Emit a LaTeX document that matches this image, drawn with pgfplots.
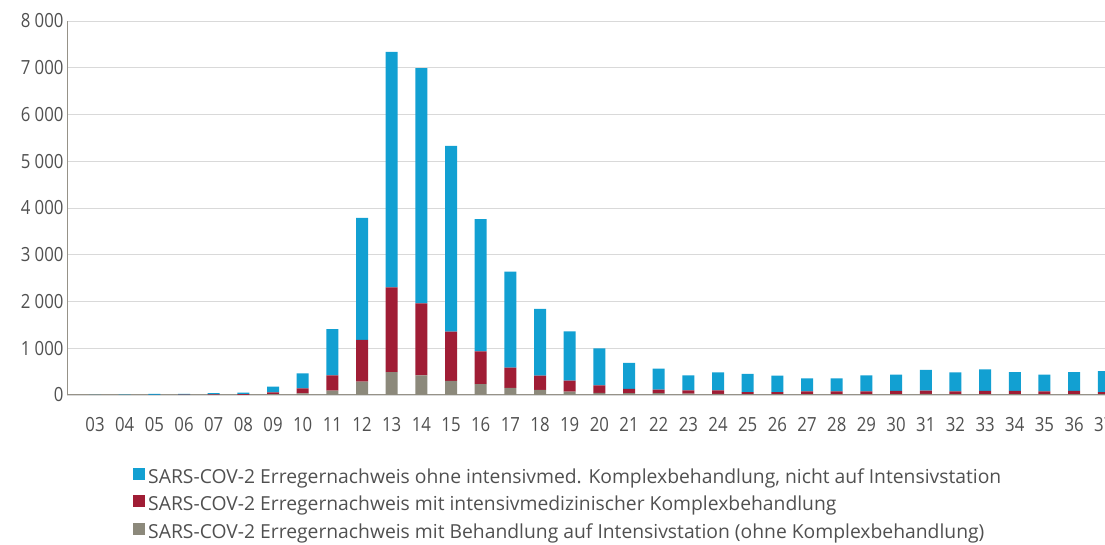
\documentclass[border=0pt]{standalone}
\usepackage{fontspec}
\setmainfont[FakeStretch=0.86]{Open Sans}
\newfontfamily\legfont{Open Sans}
\usepackage{pgfplots}
\pgfplotsset{compat=1.18}
\usepackage{pgfplotstable}
\definecolor{cblue}{RGB}{18,160,210}
\definecolor{cred}{RGB}{160,29,53}
\definecolor{cgray}{RGB}{140,137,123}
\definecolor{tickgray}{RGB}{80,80,80}
\definecolor{gridgray}{RGB}{217,217,217}
\definecolor{axisgray}{RGB}{150,146,136}
\pgfplotstableread{
w g r b
3 0 0 3
4 0 0 10
5 0 5 20
6 5 5 15
7 5 10 25
8 5 15 30
9 20 37 121
10 36 107 320
11 93 327 990
12 285 895 2610
13 490 1810 5040
14 420 1540 5030
15 300 1055 3975
16 235 700 2825
17 150 435 2055
18 107 307 1426
19 71 236 1055
20 43 164 791
21 38 94 555
22 40 74 449
23 30 70 320
24 25 75 385
25 20 44 386
26 20 44 350
27 20 58 279
28 20 58 279
29 20 58 342
30 20 66 349
31 25 68 447
32 20 58 407
33 20 66 464
34 20 66 404
35 20 58 357
36 20 66 404
37 20 44 446
}\data
\begin{document}
\begin{tikzpicture}
\begin{axis}[
  at={(67pt,150pt)}, anchor=south west,
  scale only axis, width=1051.6pt, height=374pt,
  xmin=2.056, xmax=37.5, ymin=0, ymax=8000,
  ybar stacked, bar width=12pt,
  xtick={3,...,37},
  xticklabels={03,04,05,06,07,08,09,10,11,12,13,14,15,16,17,18,19,20,21,22,23,24,25,26,27,28,29,30,31,32,33,34,35,36,37},
  ytick={0,1000,...,8000},
  ymajorgrids, grid style={draw=gridgray, line width=0.9pt},
  axis x line*=bottom, axis y line*=left,
  axis line style={draw=axisgray, line width=1pt},
  major tick length=0pt,
  tick label style={font=\fontsize{19.5}{20}\selectfont, text=tickgray},
  xticklabel style={yshift=-19pt},
  /pgf/number format/.cd, 1000 sep={\ }, assume math mode=true, /pgfplots/.cd,
  reverse legend,
  legend style={at={(0.0628,-0.194)}, anchor=north west, draw=none, fill=none,
    inner sep=0pt, column sep=3pt, row sep=7pt,
    font=\legfont\fontsize{19.3}{20}\selectfont, text=tickgray,
    nodes={inner sep=0pt, text height=14pt, text depth=5pt}},
  legend cell align=left,
]
\addplot[fill=cgray, draw=none, legend image code/.code={\fill[cgray] (0pt,-1pt) rectangle (12pt,11pt);}] table[x=w, y=g] {\data};
\addplot[fill=cred, draw=none, legend image code/.code={\fill[cred] (0pt,-1pt) rectangle (12pt,11pt);}] table[x=w, y=r] {\data};
\addplot[fill=cblue, draw=none, legend image code/.code={\fill[cblue] (0pt,-1pt) rectangle (12pt,11pt);}] table[x=w, y=b] {\data};
\legend{SARS-COV-2 Erregernachweis mit Behandlung auf Intensivstation (ohne Komplexbehandlung),
SARS-COV-2 Erregernachweis mit intensivmedizinischer Komplexbehandlung,
{SARS-COV-2 Erregernachweis ohne intensivmed. Komplexbehandlung, nicht auf Intensivstation}}
\end{axis}
\pgfresetboundingbox
\path[use as bounding box] (0,0) rectangle (1105pt,545pt);
\end{tikzpicture}
\end{document}
